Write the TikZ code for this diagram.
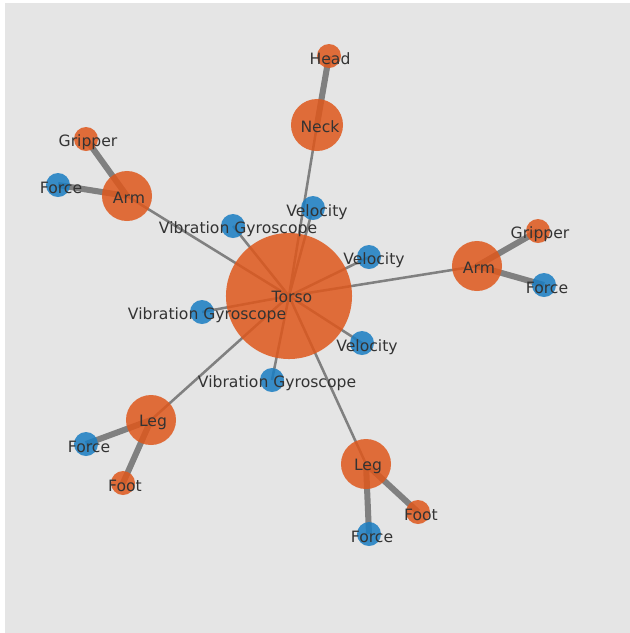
\documentclass[tikz,border=0pt]{standalone}
\usepackage{fontspec}
\setmainfont{DejaVu Sans}
\usetikzlibrary{backgrounds}

\begin{document}
\begin{tikzpicture}[x=0.025cm,y=-0.025cm,
	part/.style={circle,inner sep=0pt,draw=none,fill=cpart,fill opacity=0.85},
	sensor/.style={circle,inner sep=0pt,draw=none,fill=csensor,fill opacity=0.85,minimum size=0.6cm},
	lbl/.style={text=clbl,inner sep=0pt,font=\fontsize{11.1}{13}\selectfont},
	thin link/.style={draw=clink,line width=1.8pt},
	thick link/.style={draw=clink,line width=4.3pt}]
				\definecolor{cpart}{rgb}{0.875,0.34,0.11}
				\definecolor{csensor}{rgb}{0.1,0.49,0.76}
				\definecolor{clbl}{rgb}{0.2,0.2,0.2}
				\definecolor{clink}{rgb}{0.5,0.5,0.5}
				\definecolor{cbg}{rgb}{0.898,0.898,0.898}
				%
				\useasboundingbox (0,0) rectangle (630,633);
				%
				\node[part,minimum size=3.15cm] (torso) at (289,296) {};
				\node[part,minimum size=1.3cm] (neck) at (317,125) {};
				\node[part,minimum size=0.6cm] (head) at (329,56) {};
				\node[part,minimum size=1.25cm] (larm) at (127,196) {};
				\node[part,minimum size=0.6cm] (lgrip) at (86,139) {};
				\node[sensor] (lforce) at (58,185) {};
				\node[part,minimum size=1.25cm] (rarm) at (477,266) {};
				\node[part,minimum size=0.6cm] (rgrip) at (538,231) {};
				\node[sensor] (rforce) at (544,285) {};
				\node[part,minimum size=1.25cm] (lleg) at (151,420) {};
				\node[sensor] (llegforce) at (86,444) {};
				\node[part,minimum size=0.6cm] (lfoot) at (123,483) {};
				\node[part,minimum size=1.25cm] (rleg) at (366,464) {};
				\node[part,minimum size=0.6cm] (rfoot) at (418,512) {};
				\node[sensor] (rlegforce) at (369,534) {};
				\node[sensor] (vel1) at (313,208) {};
				\node[sensor] (vel2) at (369,257) {};
				\node[sensor] (vel3) at (362,343) {};
				\node[sensor] (gyro1) at (233,226) {};
				\node[sensor] (gyro2) at (202,312) {};
				\node[sensor] (gyro3) at (272,380) {};
				%
				\begin{scope}[on background layer]
				\fill[cbg] (5,3) rectangle (630,633);
				\foreach \v in {neck,larm,rarm,lleg,rleg,vel1,vel2,vel3,gyro1,gyro2,gyro3}
					\draw[thin link] (torso.center) -- (\v.center);
				\draw[thick link] (neck.center) -- (head.center);
				\draw[thick link] (larm.center) -- (lgrip.center);
				\draw[thick link] (larm.center) -- (lforce.center);
				\draw[thick link] (rarm.center) -- (rgrip.center);
				\draw[thick link] (rarm.center) -- (rforce.center);
				\draw[thick link] (lleg.center) -- (llegforce.center);
				\draw[thick link] (lleg.center) -- (lfoot.center);
				\draw[thick link] (rleg.center) -- (rlegforce.center);
				\draw[thick link] (rleg.center) -- (rfoot.center);
				\end{scope}
				%
				\node[lbl] (torsoL) at ([shift={(3,1)}]torso) {Torso};
				\node[lbl] (neckL) at ([shift={(3,2)}]neck) {Neck};
				\node[lbl] (headL) at ([shift={(1,3)}]head) {Head};
				\node[lbl] (larmL) at ([shift={(2,2)}]larm) {Arm};
				\node[lbl] (lgripL) at ([shift={(2,3)}]lgrip) {Gripper};
				\node[lbl] (lforceL) at ([shift={(3,3)}]lforce) {Force};
				\node[lbl] (rarmL) at ([shift={(2,2)}]rarm) {Arm};
				\node[lbl] (rgripL) at ([shift={(2,3)}]rgrip) {Gripper};
				\node[lbl] (rforceL) at ([shift={(3,3)}]rforce) {Force};
				\node[lbl] (llegL) at ([shift={(2,2)}]lleg) {Leg};
				\node[lbl] (llegforceL) at ([shift={(3,3)}]llegforce) {Force};
				\node[lbl] (lfootL) at ([shift={(2,3)}]lfoot) {Foot};
				\node[lbl] (rlegL) at ([shift={(2,2)}]rleg) {Leg};
				\node[lbl] (rfootL) at ([shift={(3,3)}]rfoot) {Foot};
				\node[lbl] (rlegforceL) at ([shift={(3,3)}]rlegforce) {Force};
				\node[lbl] (vel1L) at ([shift={(4,4)}]vel1) {Velocity};
				\node[lbl] (vel2L) at ([shift={(5,3)}]vel2) {Velocity};
				\node[lbl] (vel3L) at ([shift={(5,4)}]vel3) {Velocity};
				\node[lbl] (gyro1L) at ([shift={(5,3)}]gyro1) {Vibration Gyroscope};
				\node[lbl] (gyro2L) at ([shift={(5,3)}]gyro2) {Vibration Gyroscope};
				\node[lbl] (gyro3L) at ([shift={(5,3)}]gyro3) {Vibration Gyroscope};
				%
			\end{tikzpicture}
\end{document}
